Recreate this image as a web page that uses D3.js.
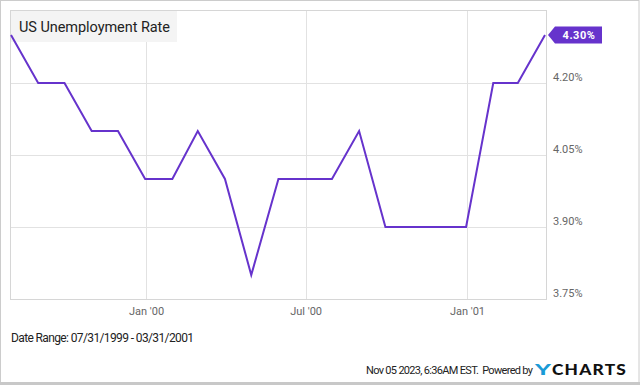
<!DOCTYPE html>
<html>
<head>
<meta charset="utf-8">
<script src="https://cdn.jsdelivr.net/npm/d3@7"></script>
<style>
  html, body { margin: 0; padding: 0; background: #fff; }
  svg { display: block; font-family: Roboto, "Noto Sans", sans-serif; }
</style>
</head>
<body>
<svg id="chart" width="640" height="385"></svg>
<script>
const dates = ["1999-07-31","1999-08-31","1999-09-30","1999-10-31","1999-11-30","1999-12-31",
  "2000-01-31","2000-02-29","2000-03-31","2000-04-30","2000-05-31","2000-06-30",
  "2000-07-31","2000-08-31","2000-09-30","2000-10-31","2000-11-30","2000-12-31",
  "2001-01-31","2001-02-28","2001-03-31"];
const rates = [4.3,4.2,4.2,4.1,4.1,4.0,4.0,4.1,4.0,3.8,4.0,4.0,4.0,4.1,3.9,3.9,3.9,3.9,4.2,4.2,4.3];
const yTicks = [3.75, 3.90, 4.05, 4.20];
const xTicks = ["2000-01-01","2000-07-01","2001-01-01"];
const xTickLabels = ["Jan '00","Jul '00","Jan '01"];

const parse = d3.utcParse("%Y-%m-%d");
const data = dates.map((d, i) => ({ date: parse(d), value: rates[i] }));

const svg = d3.select("#chart");
const W = 640, H = 385;
const plot = { left: 11, top: 11, right: 546, bottom: 299 };
const purple = "#6633cc";

// outer border
svg.append("rect").attr("x", 0.5).attr("y", 0.5).attr("width", W - 1.5).attr("height", H - 3)
  .attr("fill", "#fff").attr("stroke", "#cccccc");
svg.append("rect").attr("x", 0).attr("y", H - 3).attr("width", W).attr("height", 3).attr("fill", "#c8c8c8");

const x = d3.scaleUtc().domain([data[0].date, data[data.length - 1].date]).range([plot.left, plot.right - 1]);
const y = d3.scaleLinear().domain([3.75, 4.35]).range([plot.bottom, plot.top]);

// grid
const g = svg.append("g");
g.selectAll(".hg").data(yTicks).join("line")
  .attr("x1", plot.left).attr("x2", plot.right)
  .attr("y1", d => Math.round(y(d)) + 0.5).attr("y2", d => Math.round(y(d)) + 0.5)
  .attr("stroke", "#e2e2e2").attr("stroke-width", 1);
g.selectAll(".vg").data(xTicks).join("line")
  .attr("y1", plot.top).attr("y2", plot.bottom)
  .attr("x1", d => Math.round(x(parse(d))) + 0.5).attr("x2", d => Math.round(x(parse(d))) + 0.5)
  .attr("stroke", "#e2e2e2").attr("stroke-width", 1);

// plot frame
svg.append("rect").attr("x", plot.left - 0.5).attr("y", plot.top - 0.5)
  .attr("width", plot.right - plot.left + 1).attr("height", plot.bottom - plot.top + 1)
  .attr("fill", "none").attr("stroke", "#d6d6d6");

// title box
svg.append("rect").attr("x", plot.left).attr("y", plot.top).attr("width", 166).attr("height", 31).attr("fill", "#f4f4f4");
svg.append("text").attr("x", 19).attr("y", 32).attr("font-size", 14.5).attr("fill", "#222")
  .attr("textLength", 151).text("US Unemployment Rate");

// axes labels
const yAxis = d3.axisRight(y).tickValues(yTicks).tickFormat(d => d.toFixed(2) + "%").tickSize(0).tickPadding(0);
const ya = svg.append("g").attr("transform", `translate(${plot.right + 7},-6)`).call(yAxis);
ya.select(".domain").remove();
ya.selectAll("text").attr("font-size", 11).attr("fill", "#666").attr("font-family", "Roboto, sans-serif");

const xAxis = d3.axisBottom(x).tickValues(xTicks.map(parse)).tickFormat((d, i) => xTickLabels[i]).tickSize(0).tickPadding(0);
const xa = svg.append("g").attr("transform", `translate(0,${plot.bottom + 8})`).call(xAxis);
xa.select(".domain").remove();
xa.selectAll("text").attr("font-size", 11).attr("fill", "#666").attr("font-family", "Roboto, sans-serif");

// line
const line = d3.line().x(d => x(d.date)).y(d => y(d.value));
svg.append("path").datum(data).attr("d", line).attr("fill", "none")
  .attr("stroke", purple).attr("stroke-width", 2).attr("stroke-linejoin", "miter");

// end tag
const last = data[data.length - 1];
const ty = y(last.value);
const tx = plot.right + 2;
svg.append("path")
  .attr("d", `M${tx},${ty} L${tx + 7},${ty - 8.5} L${tx + 54},${ty - 8.5} L${tx + 54},${ty + 8.5} L${tx + 7},${ty + 8.5} Z`)
  .attr("fill", purple);
svg.append("text").attr("x", tx + 31).attr("y", ty + 4).attr("text-anchor", "middle")
  .attr("font-size", 11).attr("font-weight", "bold").attr("fill", "#fff").attr("letter-spacing", 0.5)
  .text(last.value.toFixed(2) + "%");

// footer
svg.append("text").attr("x", 11).attr("y", 342).attr("font-size", 12).attr("fill", "#222")
  .attr("textLength", 183).text("Date Range: 07/31/1999 - 03/31/2001");
svg.append("text").attr("x", 366).attr("y", 374).attr("font-size", 11).attr("fill", "#222")
  .attr("textLength", 167).attr("xml:space", "preserve")
  .text("Nov 05 2023, 6:36AM EST.  Powered by");
svg.append("text").attr("x", 535).attr("y", 375).attr("font-size", 15).attr("font-weight", "900")
  .attr("font-family", "Lato, 'Open Sans', sans-serif").attr("fill", "#1a9ad6")
  .attr("textLength", 16).attr("lengthAdjust", "spacingAndGlyphs").text("Y");
svg.append("text").attr("x", 552).attr("y", 375).attr("font-size", 14.5).attr("font-weight", "900")
  .attr("font-family", "Lato, 'Open Sans', sans-serif").attr("fill", "#111")
  .attr("textLength", 75).attr("lengthAdjust", "spacingAndGlyphs").attr("letter-spacing", 1).text("CHARTS");
</script>
</body>
</html>
